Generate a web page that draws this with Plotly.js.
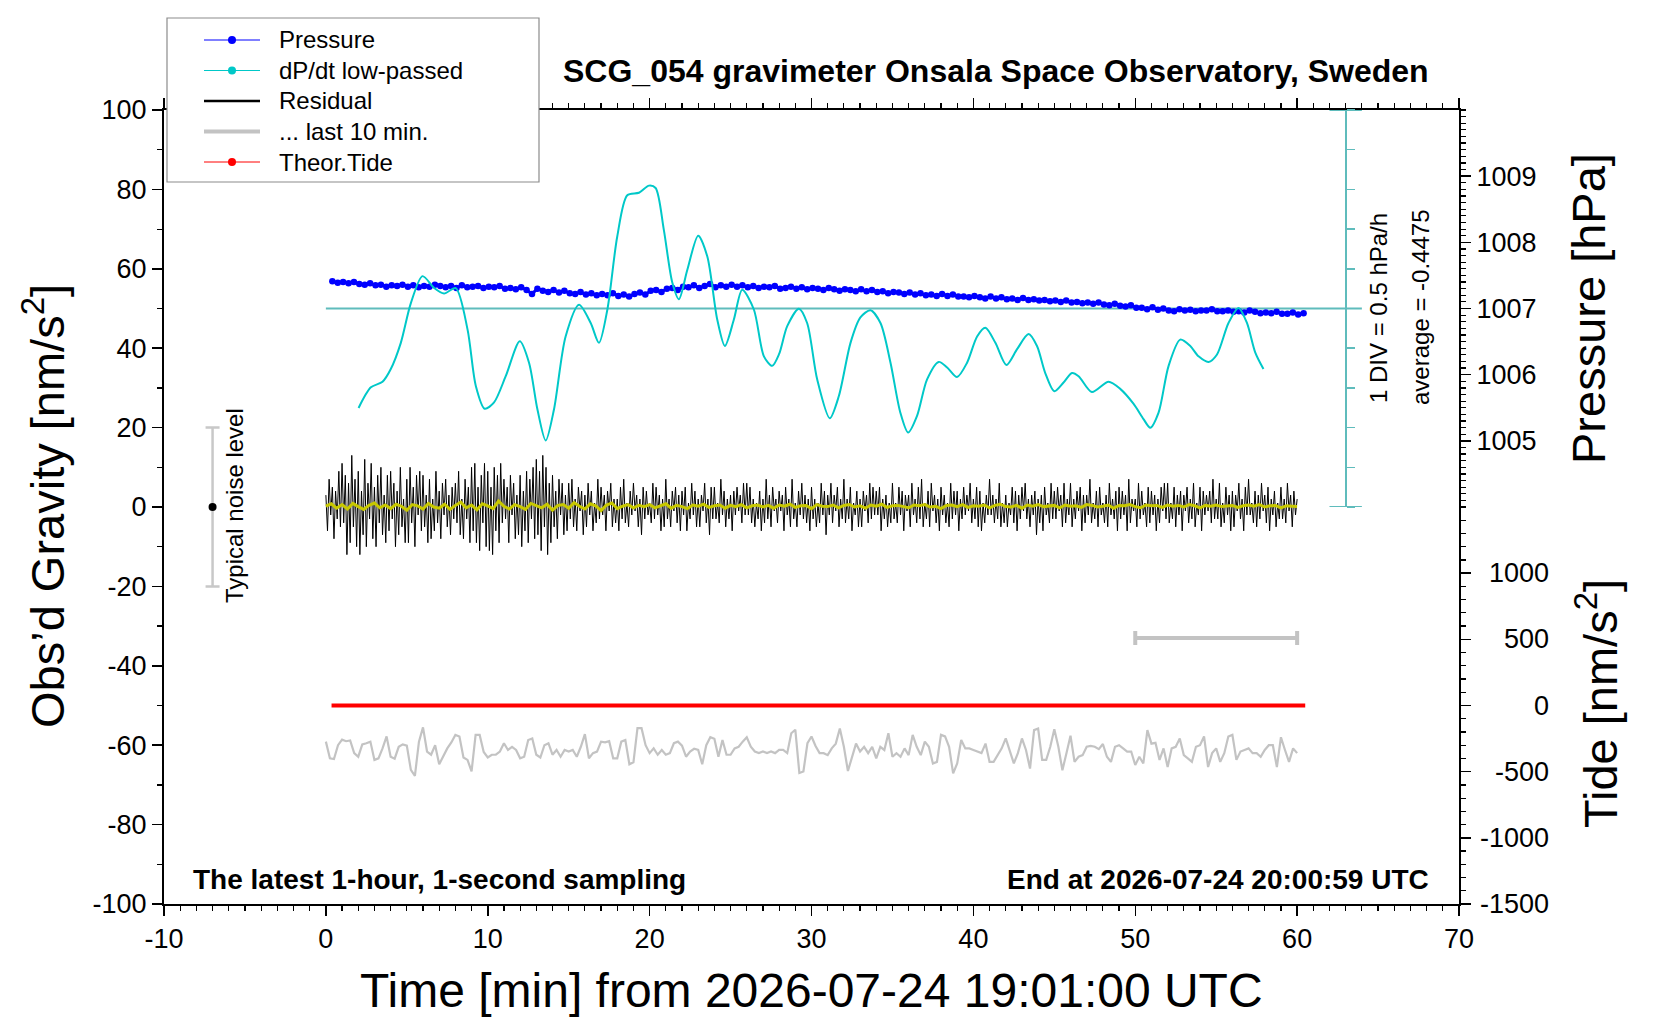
<!DOCTYPE html>
<html>
<head>
<meta charset="utf-8">
<script src="https://cdn.plot.ly/plotly-3.0.1.min.js"></script>
<style>
  html, body { margin: 0; padding: 0; background: #fff; }
  #chart { width: 1660px; height: 1020px; }
</style>
</head>
<body>
<div id="chart"></div>
<script>
// ---- data --------------------------------------------------------------------
const xTicks     = [-10, 0, 10, 20, 30, 40, 50, 60, 70];
const gravTicks  = [-100, -80, -60, -40, -20, 0, 20, 40, 60, 80, 100];
const pressTicks = [1005, 1006, 1007, 1008, 1009];
const tideTicks  = [1000, 500, 0, -500, -1000, -1500];

// residual gravity, nm/s^2, one value every 6 s from 0 min
const residual = [
  3,-6,7,-2,5,-8,4,-3,9,-5,
  11,-4,8,-12,6,-9,13,-5,7,-10,
  9,-12,4,-7,12,-10,6,-3,11,-8,
  5,-10,8,-4,10,-7,3,-9,8,-6,
  9,-3,6,-10,4,-7,10,-5,2,-9,
  7,-9,10,-4,5,-10,8,-2,9,-6,
  8,-5,3,-9,7,-8,2,-6,9,-4,
  4,-8,6,-2,7,-5,3,-7,5,-3,
  6,-4,9,-7,2,-8,7,-3,5,-9,
  10,-6,11,-9,5,-11,8,-4,11,-10,
  9,-11,5,-12,10,-6,8,-9,11,-4,
  7,-3,5,-9,8,-2,6,-8,3,-7,
  8,-10,4,-6,9,-9,7,-3,10,-8,
  12,-7,9,-11,13,-5,10,-12,6,-9,
  8,-5,4,-8,7,-2,6,-7,3,-6,
  6,-3,7,-5,2,-6,5,-1,4,-7,
  3,-5,6,-2,4,-6,1,-4,7,-3,
  5,-2,3,-6,4,-1,6,-5,2,-4,
  2,-6,5,-3,7,-4,1,-5,4,-2,
  6,-1,3,-5,2,-7,5,-3,4,-2,
  1,-4,6,-3,5,-2,3,-6,2,-5,
  7,-3,2,-5,4,-1,5,-4,3,-6,
  4,-2,5,-6,1,-3,6,-2,4,-5,
  2,-5,3,-1,6,-4,2,-7,5,-3,
  5,-3,1,-4,7,-2,4,-5,2,-3,
  3,-6,4,-2,5,-1,3,-4,6,-2,
  6,-2,5,-4,2,-5,1,-3,4,-6,
  2,-4,7,-3,3,-5,5,-1,2,-4,
  4,-1,3,-6,5,-2,2,-5,7,-3,
  1,-5,4,-2,6,-3,3,-4,2,-6,
  5,-3,2,-5,1,-4,6,-2,4,-7,
  3,-2,6,-4,3,-1,5,-5,2,-3,
  7,-4,2,-3,5,-6,1,-2,4,-5,
  2,-5,4,-1,3,-4,6,-3,5,-2,
  4,-2,5,-6,2,-3,3,-5,1,-4,
  6,-3,1,-4,5,-2,4,-6,3,-1,
  3,-5,6,-2,2,-4,5,-3,7,-5,
  1,-3,4,-5,6,-1,3,-4,2,-6,
  5,-2,3,-4,1,-5,6,-3,4,-2,
  4,-6,2,-3,5,-2,3,-1,6,-4,
  2,-3,5,-5,4,-6,1,-4,3,-2,
  7,-2,3,-4,2,-3,6,-5,1,-4,
  3,-5,1,-2,5,-4,4,-6,3,-3,
  5,-1,6,-3,2,-5,3,-2,4,-7,
  2,-4,3,-6,5,-2,1,-4,6,-3,
  4,-3,5,-1,3,-5,6,-4,2,-2,
  6,-5,2,-3,4,-1,5,-6,3,-4,
  3,-2,7,-4,1,-3,4,-5,5,-2,
  1,-4,3,-5,6,-2,2,-3,4,-6,
  5,-3,4,-2,3,-6,7,-4,2,-1,
  2,-5,6,-3,4,-2,1,-5,5,-4,
  4,-2,3,-6,2,-4,5,-1,6,-3,
  6,-4,1,-3,5,-5,3,-2,4,-6,
  3,-1,5,-4,2,-3,6,-5,1,-2,
  5,-6,4,-2,3,-1,4,-4,7,-3,
  2,-3,6,-5,1,-4,5,-2,3,-6,
  4,-5,3,-1,6,-3,2,-6,5,-2,
  7,-2,1,-4,4,-5,3,-3,6,-1,
  3,-4,5,-6,2,-2,4,-5,1,-3,
  5,-3,2,-4,6,-1,3,-5,4,-2,
  2
];
const residualStep = 0.1;   // min

// smoothed residual, one value every 20 s
const residualSmooth = [
  0.2,0.8,-0.3,0.6,-0.5,0.9,0.1,-0.6,0.4,1.0,-0.2,0.5,
  -0.4,0.7,0.2,-0.8,0.6,0.3,-0.5,0.9,0.0,-0.3,0.7,-0.6,
  0.4,1.2,-0.2,0.5,-0.7,0.8,0.3,-0.4,1.5,0.2,-0.5,0.6,
  0.1,-0.6,0.9,0.3,-0.2,0.7,-0.8,0.4,0.6,-0.3,1.1,0.2,
  -0.5,0.8,0.3,-0.9,0.5,1.0,-0.4,0.2,0.6,-0.2,0.4,0.1,
  0.6,-0.2,0.3,0.8,-0.3,0.4,0.1,-0.4,0.5,0.2,0.7,-0.1,
  0.3,0.5,-0.3,0.4,0.1,0.6,-0.2,0.3,0.5,0.0,0.4,-0.3,
  0.5,0.2,0.7,-0.1,0.3,0.4,-0.4,0.6,0.2,0.1,0.5,-0.2,
  0.4,0.6,0.0,0.3,-0.3,0.5,0.2,0.7,-0.1,0.3,0.4,0.1,
  -0.2,0.5,0.3,0.6,0.0,0.2,-0.4,0.4,0.5,0.1,0.6,-0.1,
  0.3,0.2,0.5,-0.2,0.4,0.7,0.1,0.0,0.4,-0.3,0.5,0.2,
  0.6,0.1,0.3,0.4,-0.2,0.5,0.2,0.3,-0.1,0.6,0.4,0.0,
  0.2,0.5,-0.3,0.4,0.3,0.6,0.1,-0.2,0.5,0.3,0.4,-0.1,
  0.5,0.2,0.4,0.0,0.6,0.3,-0.2,0.4,0.2,0.5,0.1,0.3,
  0.4,-0.1,0.3,0.5,0.2,0.6,0.0,0.3,0.4,-0.2,0.3,0.2,
  0.1
];
const smoothStep = 1 / 3;   // min

// last 10 min of residual, stretched over 0..60 min, drawn at -60 nm/s^2
const last10 = [
  -59.1,-63.3,-63.5,-60,-58.6,-59,-58.8,-62,-62.9,-59.8,
  -59.5,-59.1,-63.7,-63.3,-60.8,-57.8,-62.9,-63.4,-60.4,-59.8,
  -60.1,-66.2,-67.7,-59.1,-55.5,-61.6,-62.4,-60,-64.8,-62.9,
  -60.8,-59.3,-57.4,-57.8,-63.1,-63.7,-66.6,-57.4,-57.4,-61.7,
  -63.1,-62.4,-62.4,-61.6,-59.5,-61.2,-60.4,-61.2,-63.3,-62.9,
  -58.7,-58.3,-62.4,-63.1,-60,-59.5,-62.4,-61.2,-62.9,-61.2,
  -61.6,-61.2,-62.9,-60.4,-57.2,-63.3,-62,-61.6,-59.1,-59.3,
  -59,-63.3,-63.3,-59.1,-58.7,-64.8,-64.3,-55.7,-55.7,-60,
  -62,-60.8,-62.4,-61.2,-62.4,-62,-59.5,-59.1,-60.1,-62.9,
  -61.6,-60.9,-61.2,-64.8,-60,-58,-58.4,-62.9,-58.7,-62.4,
  -62.4,-60.8,-60.4,-59.1,-58,-60.4,-61.6,-62,-61.6,-62,
  -61.6,-62,-61.2,-61.2,-62,-57,-56.1,-67,-66.6,-59.5,
  -57.8,
  -60.2,-62,-62,-62.5,-60.8,-59.6,-55.8,-60.4,-66.5,-62.9,
  -59.6,-61.6,-60.4,-62,-60.4,-63.3,-60.4,-61.2,-57,-62.9,
  -62,-62.9,-60.8,-62.5,-57.4,-60.4,-62.5,-59.1,-60.4,-64.6,
  -64.2,-57.4,-57.8,-60.4,-67.1,-64.6,-58.7,-60.8,-60.8,-61.2,
  -61.6,-62,-59.6,-64.2,-64.2,-62.5,-60.8,-58.3,-61.6,-64.6,
  -62,-58.3,-61.2,-65.9,-56.2,-55.8,-63.7,-63.7,-60.4,-56,
  -60.4,-66.3,-62,-57.6,-64.2,-62.9,-62.5,-60.4,-60.2,-60.4,
  -61,-59.7,-62.9,-64.2,-60.4,-60,-60.8,-61.6,-61.6,-65,
  -62.9,-64.6,-56.2,-59.6,-59.4,-63.7,-60.8,-65.5,-60.8,-60.4,
  -58.3,-62.5,-63.3,-64.2,-60.4,-60,-57.8,-65.5,-62,-60.8,
  -64.2,-62,-57.8,-57.4,-63.7,-61.6,-61.2,-60.8,-62,-62,
  -62.9,-61.2,-60,-60,-65.5,-58,-61.2,-64.2,-60.8,-62
];
const last10Step = 0.25;    // min on the plot
const windowStart = 50, windowEnd = 60, windowLevel = -33;

// air pressure, hPa, every 20 s from 0.4 min
const pressure = [
  1007.41,1007.39,1007.40, 1007.38,1007.40,1007.37, 1007.36,1007.38,1007.35,
  1007.36,1007.33,1007.35, 1007.34,1007.36,1007.33, 1007.35,1007.32,1007.34,
  1007.33,1007.36,1007.34, 1007.32,1007.34,1007.31, 1007.35,1007.32,1007.33,
  1007.34,1007.31,1007.33, 1007.32,1007.34,1007.30, 1007.31,1007.29,1007.32,
  1007.28,1007.22,1007.30, 1007.27,1007.25,1007.28, 1007.24,1007.27,1007.23,
  1007.22,1007.25,1007.21, 1007.23,1007.20,1007.22, 1007.20,1007.23,1007.19,
  1007.21,1007.18,1007.22, 1007.24,1007.21,1007.27, 1007.28,1007.25,1007.30,
  1007.31,1007.28,1007.33, 1007.32,1007.35,1007.31, 1007.34,1007.37,1007.32,
  1007.35,1007.33,1007.36, 1007.33,1007.35,1007.32, 1007.34,1007.31,1007.33,
  1007.32,1007.34,1007.30, 1007.31,1007.33,1007.30, 1007.32,1007.29,1007.31,
  1007.30,1007.28,1007.31, 1007.29,1007.27,1007.29, 1007.28,1007.26,1007.29,
  1007.26,1007.28,1007.25, 1007.26,1007.23,1007.25, 1007.24,1007.22,1007.24,
  1007.21,1007.23,1007.20, 1007.21,1007.19,1007.22, 1007.19,1007.21,1007.18,
  1007.18,1007.17,1007.19, 1007.17,1007.15,1007.18, 1007.15,1007.17,1007.14,
  1007.15,1007.13,1007.16, 1007.13,1007.14,1007.12, 1007.13,1007.11,1007.12,
  1007.10,1007.12,1007.09, 1007.10,1007.08,1007.09, 1007.07,1007.09,1007.06,
  1007.05,1007.07,1007.04, 1007.03,1007.05,1007.01, 1007.01,1006.99,1007.02,
  1006.98,1007.00,1006.97, 1006.96,1006.99,1006.97, 1006.98,1006.96,1006.97,
  1006.97,1006.99,1006.96, 1006.96,1006.97,1006.95, 1006.96,1006.94,1006.97,
  1006.95,1006.93,1006.94, 1006.93,1006.95,1006.92, 1006.92,1006.94,1006.91,
  1006.93
];
const pressStart = 0.4, pressStep = 1 / 3;

// low-passed dP/dt, hPa/h
const dpdtTime = [
  2.02,2.78,3.5,4.01,4.63,5.25,5.97,6.69,7.30,8.02,8.75,9.26,9.81,10.39,11.11,
  11.98,12.55,13.07,13.58,14.09,14.81,15.64,16.36,16.87,17.39,18.0,18.62,19.34,
  19.96,20.37,20.88,21.40,21.81,22.33,23.00,23.56,24.18,24.65,25.2,25.72,26.44,
  27.06,27.57,28.0,28.5,29.22,29.73,30.35,31.13,31.69,32.41,33.02,33.64,34.26,
  34.88,35.49,35.97,36.52,37.14,37.86,38.38,38.99,39.61,40.23,40.74,41.36,42.04,
  42.7,43.41,43.93,44.44,45.0,45.57,46.09,46.5,47.32,48.35,49.07,49.9,50.51,
  50.93,51.44,52.06,52.78,53.4,53.91,54.53,55.04,55.76,56.38,56.9,57.41,57.92
];
const dpdtValue = [
  -1.70,-1.44,-1.37,-1.21,-0.88,-0.38,-0.04,-0.19,-0.26,-0.19,-0.71,-1.42,-1.71,-1.63,-1.30,
  -0.86,-1.13,-1.72,-2.11,-1.72,-0.80,-0.40,-0.63,-0.88,-0.46,0.46,0.98,1.01,
  1.10,1.07,0.54,-0.12,-0.33,0.04,0.47,0.21,-0.59,-0.92,-0.59,-0.21,-0.46,
  -1.05,-1.17,-1.02,-0.67,-0.45,-0.63,-1.34,-1.83,-1.55,-0.88,-0.56,-0.47,-0.63,
  -1.13,-1.76,-2.01,-1.80,-1.34,-1.12,-1.19,-1.31,-1.13,-0.80,-0.69,-0.88,-1.16,
  -0.96,-0.77,-0.92,-1.26,-1.49,-1.38,-1.26,-1.30,-1.50,-1.37,-1.46,-1.65,-1.84,
  -1.95,-1.76,-1.17,-0.84,-0.92,-1.05,-1.12,-1.03,-0.63,-0.44,-0.63,-1.00,-1.21
];
const dpdtAverage = -0.4475;
const dpdtDiv = 0.5;        // hPa/h per division

// theoretical tide, nm/s^2
const tideTime  = [0.35, 5, 10, 15, 20, 25, 30, 35, 40, 45, 50, 55, 60.5];
const tideValue = [0, 0, 0, 0, 0, 0, 0, 0, 0, 0, 0, 0, 0];

const noiseLevel = 20;      // nm/s^2
const noiseAt = -7;         // min

// ---- layout helpers ----------------------------------------------------------
const FONT = 'Liberation Sans, Arial, Helvetica, sans-serif';
const W = 1660, H = 1020;
const M = { l: 164, r: 201, t: 110, b: 116 };
const PW = W - M.l - M.r, PH = H - M.t - M.b;
const px = x => (x - M.l) / PW;          // pixel -> paper x
const py = y => (H - M.b - y) / PH;      // pixel -> paper y
const X_RANGE = [-10, 70];
const CYAN_AXIS_AT = 63;                 // min

const C_PRESS = '#0000ff', C_DPDT = '#00c8c8', C_AXIS = '#5fbcbc';
const C_RES = '#000000', C_SMOOTH = '#c8c800', C_GRAY = '#c3c3c3', C_TIDE = '#ff0000';

const idx = (arr, start, step) => arr.map((_, i) => start + i * step);
const lbl = v => String(v);

// ---- traces ------------------------------------------------------------------
const traces = [
  {
    type: 'scatter', mode: 'lines', x: dpdtTime, y: dpdtValue, yaxis: 'y4',
    line: { color: C_DPDT, width: 2, shape: 'spline', smoothing: 0.8 },
    hoverinfo: 'skip', showlegend: false,
  },
  {
    type: 'scatter', mode: 'lines+markers',
    x: idx(pressure, pressStart, pressStep), y: pressure, yaxis: 'y2',
    line: { color: C_PRESS, width: 3 }, marker: { color: C_PRESS, size: 6.5 },
    hoverinfo: 'skip', showlegend: false,
  },
  {
    type: 'scatter', mode: 'lines', x: idx(last10, 0, last10Step), y: last10,
    line: { color: C_GRAY, width: 2.2 }, hoverinfo: 'skip', showlegend: false,
  },
  {
    type: 'scatter', mode: 'lines', x: idx(residual, 0, residualStep), y: residual,
    line: { color: C_RES, width: 1 }, hoverinfo: 'skip', showlegend: false,
  },
  {
    type: 'scatter', mode: 'lines', x: idx(residualSmooth, 0, smoothStep), y: residualSmooth,
    line: { color: C_SMOOTH, width: 3 }, hoverinfo: 'skip', showlegend: false,
  },
  {
    // span of the last 10 minutes
    type: 'scatter', mode: 'markers',
    x: [(windowStart + windowEnd) / 2], y: [windowLevel],
    marker: { size: 1, opacity: 0 },
    error_x: { type: 'constant', value: (windowEnd - windowStart) / 2,
               color: C_GRAY, thickness: 4, width: 7 },
    hoverinfo: 'skip', showlegend: false,
  },
  {
    // typical noise level bar
    type: 'scatter', mode: 'markers', x: [noiseAt], y: [0],
    marker: { color: '#000', size: 8 },
    error_y: { type: 'constant', value: noiseLevel, color: '#c8c8c8', thickness: 2.5, width: 7 },
    hoverinfo: 'skip', showlegend: false,
  },
  {
    type: 'scatter', mode: 'lines', x: tideTime, y: tideValue, yaxis: 'y3',
    line: { color: C_TIDE, width: 4 }, hoverinfo: 'skip', showlegend: false,
  },
];

// ---- hand-made legend --------------------------------------------------------
const legendItems = [
  { text: 'Pressure',         color: C_PRESS, width: 1,   dot: true },
  { text: 'dP/dt low-passed', color: C_DPDT,  width: 1,   dot: true },
  { text: 'Residual',         color: C_RES,   width: 2.5, dot: false },
  { text: '... last 10 min.', color: C_GRAY,  width: 4,   dot: false },
  { text: 'Theor.Tide',       color: C_TIDE,  width: 1,   dot: true },
];

const shapes = [
  // dP/dt reference line and end bars of its scale
  { type: 'line', xref: 'x', yref: 'y4', x0: 0, x1: CYAN_AXIS_AT + 1,
    y0: dpdtAverage, y1: dpdtAverage, line: { color: C_AXIS, width: 2 }, layer: 'below' },
  { type: 'line', xref: 'x', yref: 'y4', x0: CYAN_AXIS_AT - 1, x1: CYAN_AXIS_AT + 1,
    y0: dpdtAverage + 5 * dpdtDiv, y1: dpdtAverage + 5 * dpdtDiv, line: { color: C_AXIS, width: 2 } },
  { type: 'line', xref: 'x', yref: 'y4', x0: CYAN_AXIS_AT - 1, x1: CYAN_AXIS_AT + 1,
    y0: dpdtAverage - 5 * dpdtDiv, y1: dpdtAverage - 5 * dpdtDiv, line: { color: C_AXIS, width: 2 } },
  // legend box
  { type: 'rect', xref: 'paper', yref: 'paper', x0: px(167), x1: px(539), y0: py(182), y1: py(18),
    fillcolor: '#fff', line: { color: '#8c8c8c', width: 1.2 }, layer: 'above' },
];

const annotations = [];
legendItems.forEach((it, i) => {
  const yy = py(40 + i * 30.5);
  shapes.push({ type: 'line', xref: 'paper', yref: 'paper', x0: px(204), x1: px(260), y0: yy, y1: yy,
                line: { color: it.color, width: it.width }, layer: 'above' });
  if (it.dot) {
    shapes.push({ type: 'circle', xref: 'paper', yref: 'paper', xsizemode: 'pixel', ysizemode: 'pixel',
                  xanchor: px(232), yanchor: yy, x0: -4, x1: 4, y0: -4, y1: 4,
                  fillcolor: it.color, line: { width: 0 }, layer: 'above' });
  }
  annotations.push({ xref: 'paper', yref: 'paper', x: px(277), y: yy, xanchor: 'left', yanchor: 'middle',
                     text: it.text, showarrow: false, font: { size: 24, color: '#000' } });
});

const txt = (x, y, text, size, extra) => Object.assign({
  xref: 'paper', yref: 'paper', x: px(x), y: py(y), text, showarrow: false,
  xanchor: 'center', yanchor: 'middle', font: { size, color: '#000' },
}, extra || {});

annotations.push(
  txt(996, 71, '<b>SCG_054 gravimeter Onsala Space Observatory, Sweden</b>', 32),
  txt(191, 879, '<b>The latest 1-hour, 1-second sampling</b>', 28, { xanchor: 'left' }),
  txt(1431, 879, '<b>End at 2026-07-24 20:00:59 UTC</b>', 28, { xanchor: 'right' }),
  txt(1378, 308, '1 DIV = ' + dpdtDiv + ' hPa/h', 24, { textangle: -90 }),
  txt(1420, 308, 'average = ' + dpdtAverage, 24, { textangle: -90 }),
  txt(235, 506, 'Typical noise level', 24, { textangle: -90 }),
  txt(44, 506, 'Obs\u2019d Gravity [nm/s<sup>2</sup>]', 47, { textangle: -90 }),
  txt(1588, 309, 'Pressure [hPa]', 47, { textangle: -90 }),
  txt(1597, 704, 'Tide [nm/s<sup>2</sup>]', 47, { textangle: -90 }),
  txt(811, 990, 'Time [min] from 2026-07-24 19:01:00 UTC', 48),
);
// tide tick labels are right-aligned in the reference
tideTicks.forEach(t => annotations.push({
  xref: 'paper', yref: 'y3', x: px(1551), y: t, xanchor: 'right', yanchor: 'middle',
  text: lbl(t), showarrow: false, font: { size: 27, color: '#000' },
}));

// ---- axes --------------------------------------------------------------------
const axBase = {
  showgrid: false, zeroline: false, showline: true, linecolor: '#000', linewidth: 2,
  ticks: 'outside', ticklen: 10, tickwidth: 1.5, tickcolor: '#000',
  tickfont: { family: FONT, size: 27, color: '#000' },
};

const layout = {
  width: W, height: H, margin: M,
  paper_bgcolor: '#fff', plot_bgcolor: 'rgba(0,0,0,0)',
  font: { family: FONT, color: '#000' },
  showlegend: false,
  xaxis: { ...axBase, range: X_RANGE, anchor: 'y', mirror: 'ticks',
           tickmode: 'array', tickvals: xTicks, ticktext: xTicks.map(lbl),
           minor: { dtick: 1, ticklen: 5, tickwidth: 1.2, tickcolor: '#000', ticks: 'outside' } },
  yaxis: { ...axBase, range: [-100, 100], mirror: true,
           tickmode: 'array', tickvals: gravTicks, ticktext: gravTicks.map(lbl),
           minor: { dtick: 10, ticklen: 5, tickwidth: 1.2, tickcolor: '#000', ticks: 'outside' } },
  yaxis2: { ...axBase, domain: [0.5, 1], range: [1004, 1010], anchor: 'x', side: 'right',
            tickmode: 'array', tickvals: pressTicks, ticktext: pressTicks.map(lbl),
            minor: { dtick: 0.1, tick0: 1004, ticklen: 5, tickwidth: 1.2, tickcolor: '#000', ticks: 'outside' } },
  yaxis3: { ...axBase, domain: [0, 0.5], range: [-1500, 1500], anchor: 'x', side: 'right',
            tickmode: 'array', tickvals: tideTicks, showticklabels: false,
            minor: { dtick: 100, ticklen: 5, tickwidth: 1.2, tickcolor: '#000', ticks: 'outside' } },
  yaxis4: { showgrid: false, zeroline: false, overlaying: 'y2', anchor: 'free', side: 'right',
            position: (CYAN_AXIS_AT - X_RANGE[0]) / (X_RANGE[1] - X_RANGE[0]),
            range: [dpdtAverage - 5 * dpdtDiv, dpdtAverage + 5 * dpdtDiv],
            tick0: dpdtAverage, dtick: dpdtDiv, ticks: 'outside', ticklen: 8, tickwidth: 1.5,
            tickcolor: C_AXIS, showline: true, linecolor: C_AXIS, linewidth: 2, showticklabels: false },
  shapes, annotations,
};

Plotly.newPlot('chart', traces, layout, { staticPlot: true, displayModeBar: false });
</script>
</body>
</html>
